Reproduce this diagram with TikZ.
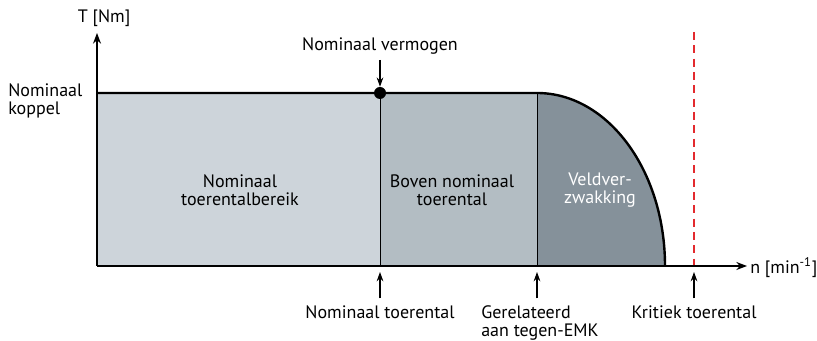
\documentclass[tikz,border=0pt]{standalone}
\usepackage{fontspec}
\setmainfont{PT Sans}
\usetikzlibrary{arrows.meta}
\definecolor{rangelight}{HTML}{CDD4DA}
\definecolor{rangemid}{HTML}{B3BDC3}
\definecolor{rangedark}{HTML}{85919A}
\definecolor{critred}{HTML}{E32A2E}

\begin{document}
\begin{tikzpicture}[x=0.75pt, y=-0.75pt,
    lbl/.style={font=\fontsize{13.5}{13.5}\selectfont, align=center, inner sep=0pt},
    axis/.style={line width=1.1pt, -{Stealth[length=8pt,width=6pt]}},
    pointer/.style={line width=0.8pt, -{Stealth[length=7pt,width=5pt]}},
]
\useasboundingbox (0,0) rectangle (817,341);
% speed ranges
\fill[rangelight] (97,93) rectangle (380,266);
\fill[rangemid] (380,93) rectangle (537,266);
\fill[rangedark] (537,266) -- (537,93)
    arc[start angle=-90, end angle=0, x radius=128, y radius=173] -- cycle;
\draw[line width=0.6pt] (380,93) -- (380,266) (537,93) -- (537,266);
\draw[line width=1.8pt] (97,93) -- (537,93)
    arc[start angle=-90, end angle=0, x radius=128, y radius=173];
\draw[critred, line width=2.2pt, dash pattern=on 6pt off 4pt] (694,32) -- (694,266);
% axes
\coordinate (origin) at (97,266);
\coordinate (ytip) at (97,33);
\coordinate (xtip) at (747,266);
\draw[axis] (origin) -- (ytip);
\draw[axis] (origin) -- (xtip);
\node[lbl] (tlabel) at (104,18) {T [Nm]};
\node[lbl, anchor=west] (nlabel) at (750,268) {n [min\textsuperscript{-1}]};
\node[lbl, align=left, anchor=west] (koppel) at (8,101) {Nominaal\\koppel};
% range labels
\node[lbl] (nombereik) at (240,190) {Nominaal\\toerentalbereik};
\node[lbl] (boven) at (452,190) {Boven nominaal\\toerental};
\node[lbl, text=white] (veld) at (600,190) {Veldver-\\zwakking};
% nominal power
\node[circle, fill, inner sep=0pt, minimum size=9pt] (vermogenpt) at (380,93) {};
\node[lbl] (vermogen) at (380,46) {Nominaal vermogen};
\draw[pointer, shorten <=4pt] (vermogen) -- (vermogenpt);
% speeds on the n axis
\coordinate (nompt) at (380,272);
\coordinate (emkpt) at (537,272);
\coordinate (kritpt) at (694,272);
\node[lbl, anchor=north] (nomtoer) at (380,305) {Nominaal toerental};
\node[lbl, anchor=north west, align=left] (emk) at (481,305) {Gerelateerd\\aan tegen-EMK};
\node[lbl, anchor=north] (krit) at (694,305) {Kritiek toerental};
\draw[pointer, shorten <=5pt] (nomtoer) -- (nompt);
\draw[pointer, shorten <=5pt] (emk.north -| emkpt) -- (emkpt);
\draw[pointer, shorten <=5pt] (krit) -- (kritpt);
\end{tikzpicture}
\end{document}
